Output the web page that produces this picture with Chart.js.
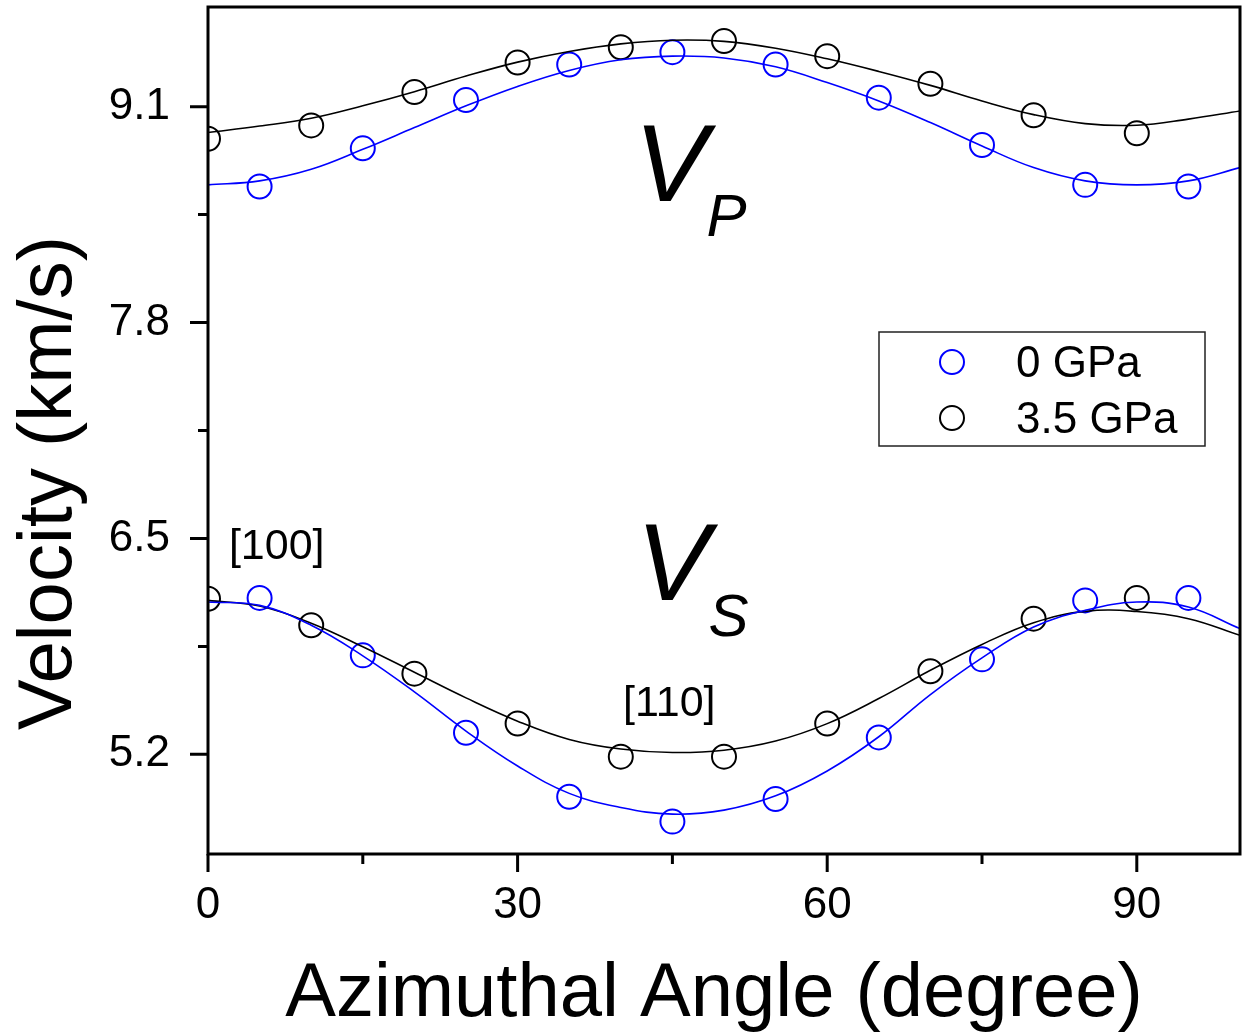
<!DOCTYPE html>
<html>
<head>
<meta charset="utf-8">
<title>Azimuthal velocity</title>
<script src="https://cdn.jsdelivr.net/npm/chart.js@4.4.1/dist/chart.umd.min.js"></script>
<style>
  html, body { margin: 0; padding: 0; background: #fff; }
  canvas { display: block; }
</style>
</head>
<body>
<canvas id="velocityChart" width="1242" height="1033"></canvas>
<script>
const FONT = '"Liberation Sans", Arial, "DejaVu Sans", sans-serif';

// measured angles (degree)
const angles0 = [5, 15, 25, 35, 45, 55, 65, 75, 85, 95];
const angles35 = [0, 10, 20, 30, 40, 50, 60, 70, 80, 90];
// fitted curves are sampled every 5 degree
const fitAngles = [0, 5, 10, 15, 20, 25, 30, 35, 40, 45, 50, 55, 60, 65, 70, 75, 80, 85, 90, 95, 100];

// P-wave velocity (km/s)
const vp0 = [8.619, 8.849, 9.140, 9.354, 9.428, 9.354, 9.154, 8.869, 8.629, 8.619];
const vp35 = [8.907, 8.987, 9.188, 9.366, 9.458, 9.495, 9.404, 9.238, 9.048, 8.940];
const vp0Fit = [8.629, 8.653, 8.723, 8.843, 8.974, 9.105, 9.222, 9.318, 9.382, 9.404, 9.393,
                9.340, 9.245, 9.134, 9.004, 8.863, 8.733, 8.653, 8.629, 8.653, 8.733];
const vp35Fit = [8.944, 8.983, 9.030, 9.105, 9.190, 9.284, 9.368, 9.432, 9.478, 9.500, 9.493,
                 9.452, 9.388, 9.312, 9.228, 9.134, 9.052, 8.998, 8.988, 9.025, 9.074];

// S-wave velocity (km/s)
const vs0 = [6.142, 5.796, 5.330, 4.945, 4.795, 4.931, 5.302, 5.772, 6.127, 6.142];
const vs35 = [6.137, 5.977, 5.686, 5.386, 5.186, 5.186, 5.386, 5.700, 6.017, 6.142];
const vs0Fit = [6.117, 6.097, 5.977, 5.793, 5.576, 5.340, 5.130, 4.965, 4.880, 4.840, 4.864,
                4.950, 5.100, 5.306, 5.560, 5.781, 5.967, 6.067, 6.117, 6.087, 5.957];
const vs35Fit = [6.127, 6.093, 5.990, 5.848, 5.694, 5.540, 5.400, 5.290, 5.232, 5.211, 5.225,
                 5.280, 5.385, 5.536, 5.706, 5.862, 5.993, 6.061, 6.060, 6.017, 5.917];

const seriesNames = ['0 GPa', '3.5 GPa'];
const seriesColors = ['#0000ff', '#000000'];

const xMajorTicks = [0, 30, 60, 90];
const xMinorTicks = [15, 45, 75];
const yMajorTicks = [5.2, 6.5, 7.8, 9.1];
const yMinorTicks = [5.85, 7.15, 8.45];

const xTitle = 'Azimuthal Angle (degree)';
const yTitle = 'Velocity (km/s)';

// text placed on the plot, in data units
const notes = [
    { text: 'V', x: 41.3, y: 8.53, size: 110, italic: true, align: 'left' },
    { text: 'P', x: 48.3, y: 8.32, size: 60, italic: true, align: 'left' },
    { text: 'V', x: 41.5, y: 6.13, size: 110, italic: true, align: 'left' },
    { text: 'S', x: 48.5, y: 5.913, size: 60, italic: true, align: 'left' },
    { text: '[100]', x: 6.66, y: 6.376, size: 43, italic: false, align: 'center' },
    { text: '[110]', x: 44.7, y: 5.433, size: 43, italic: false, align: 'center' },
];

function toPoints(xs, ys) {
    return xs.map((x, i) => ({ x: x, y: ys[i] }));
}

function markerSet(label, xs, ys, color) {
    return {
        label: label,
        data: toPoints(xs, ys),
        showLine: false,
        borderColor: color,
        backgroundColor: 'transparent',
        pointStyle: 'circle',
        pointRadius: 12,
        pointBorderWidth: 2,
        pointHoverRadius: 12,
        clip: 0,
    };
}

function fitSet(label, ys, color) {
    return {
        label: label,
        data: toPoints(fitAngles, ys),
        borderColor: color,
        borderWidth: 1.6,
        pointRadius: 0,
        tension: 0.4,
        fill: false,
        clip: 0,
    };
}

const datasets = [
    fitSet('0 GPa fit', vp0Fit, seriesColors[0]),
    fitSet('3.5 GPa fit', vp35Fit, seriesColors[1]),
    fitSet('0 GPa fit', vs0Fit, seriesColors[0]),
    fitSet('3.5 GPa fit', vs35Fit, seriesColors[1]),
    markerSet(seriesNames[0], angles0, vp0, seriesColors[0]),
    markerSet(seriesNames[1], angles35, vp35, seriesColors[1]),
    markerSet(seriesNames[0], angles0, vs0, seriesColors[0]),
    markerSet(seriesNames[1], angles35, vs35, seriesColors[1]),
];

function drawTickMarks(ctx, chart) {
    const area = chart.chartArea;
    const xs = chart.scales.x;
    const ys = chart.scales.y;
    ctx.strokeStyle = '#000';
    ctx.lineWidth = 3;
    ctx.beginPath();
    xMajorTicks.forEach(v => {
        const px = xs.getPixelForValue(v);
        ctx.moveTo(px, area.bottom);
        ctx.lineTo(px, area.bottom + 18);
    });
    xMinorTicks.forEach(v => {
        const px = xs.getPixelForValue(v);
        ctx.moveTo(px, area.bottom);
        ctx.lineTo(px, area.bottom + 10);
    });
    yMajorTicks.forEach(v => {
        const py = ys.getPixelForValue(v);
        ctx.moveTo(area.left, py);
        ctx.lineTo(area.left - 18, py);
    });
    yMinorTicks.forEach(v => {
        const py = ys.getPixelForValue(v);
        ctx.moveTo(area.left, py);
        ctx.lineTo(area.left - 10, py);
    });
    ctx.stroke();
}

function drawLegend(ctx, chart) {
    const area = chart.chartArea;
    const boxLeft = area.right - 361;
    const boxTop = 332;
    ctx.strokeStyle = '#222';
    ctx.lineWidth = 1.5;
    ctx.strokeRect(boxLeft, boxTop, 326, 114);

    ctx.font = '44px ' + FONT;
    ctx.textAlign = 'left';
    ctx.textBaseline = 'alphabetic';
    seriesNames.forEach((name, i) => {
        const rowY = boxTop + 30 + i * 56;
        ctx.beginPath();
        ctx.strokeStyle = seriesColors[i];
        ctx.lineWidth = 2;
        ctx.arc(boxLeft + 73, rowY, 12, 0, Math.PI * 2);
        ctx.stroke();
        ctx.fillStyle = '#000';
        ctx.fillText(name, boxLeft + 137, rowY + 15);
    });
}

function drawNotes(ctx, chart) {
    const xs = chart.scales.x;
    const ys = chart.scales.y;
    ctx.fillStyle = '#000';
    ctx.textBaseline = 'alphabetic';
    notes.forEach(n => {
        ctx.font = (n.italic ? 'italic ' : '') + n.size + 'px ' + FONT;
        ctx.textAlign = n.align;
        ctx.fillText(n.text, xs.getPixelForValue(n.x), ys.getPixelForValue(n.y));
    });
}

function drawTitles(ctx) {
    ctx.fillStyle = '#000';
    ctx.font = '76px ' + FONT;
    ctx.textBaseline = 'alphabetic';
    ctx.textAlign = 'center';
    ctx.fillText(xTitle, 714, 1016);

    ctx.save();
    ctx.translate(71, 483);
    ctx.rotate(-Math.PI / 2);
    ctx.fillText(yTitle, 0, 0);
    ctx.restore();
}

const framePlugin = {
    id: 'frame',
    afterDatasetsDraw(chart) {
        const ctx = chart.ctx;
        const area = chart.chartArea;
        ctx.save();
        // plot box
        ctx.strokeStyle = '#000';
        ctx.lineWidth = 3;
        ctx.strokeRect(area.left, area.top, area.right - area.left, area.bottom - area.top);
        drawTickMarks(ctx, chart);
        drawLegend(ctx, chart);
        drawNotes(ctx, chart);
        drawTitles(ctx);
        ctx.restore();
    }
};

// keep the axis boxes at fixed sizes, no extra room for edge labels
function fixAxisBox(scale, size) {
    if (scale.isHorizontal()) {
        scale.height = size;
    } else {
        scale.width = size;
    }
    scale.paddingTop = 0;
    scale.paddingBottom = 0;
    scale.paddingLeft = 0;
    scale.paddingRight = 0;
}

const tickFont = { family: FONT, size: 44 };

new Chart(document.getElementById('velocityChart'), {
    type: 'line',
    data: { datasets: datasets },
    options: {
        responsive: false,
        animation: false,
        layout: { autoPadding: false, padding: { top: 7, right: 2, left: 0, bottom: 0 } },
        plugins: {
            legend: { display: false },
            tooltip: { enabled: false },
        },
        scales: {
            x: {
                type: 'linear',
                min: 0,
                max: 100,
                grid: { display: false },
                border: { display: false },
                afterBuildTicks: scale => { scale.ticks = xMajorTicks.map(v => ({ value: v })); },
                afterFit: scale => fixAxisBox(scale, 179),
                ticks: {
                    font: tickFont,
                    color: '#000',
                    padding: 17,
                    maxRotation: 0,
                    autoSkip: false,
                    callback: v => String(v),
                },
            },
            y: {
                type: 'linear',
                min: 4.6,
                max: 9.7,
                grid: { display: false },
                border: { display: false },
                afterBuildTicks: scale => { scale.ticks = yMajorTicks.map(v => ({ value: v })); },
                afterFit: scale => fixAxisBox(scale, 208),
                ticks: {
                    font: tickFont,
                    color: '#000',
                    padding: 30,
                    autoSkip: false,
                    callback: v => Number(v).toFixed(1),
                },
            },
        },
    },
    plugins: [framePlugin],
});
</script>
</body>
</html>
